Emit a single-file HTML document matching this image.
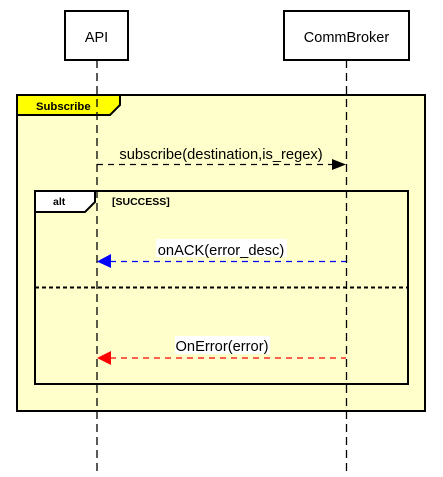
<!DOCTYPE html>
<html><head><style>body{margin:0;background:#fff}</style></head><body>
<svg width="443" height="472" xmlns="http://www.w3.org/2000/svg" font-family="Liberation Sans, Arial, sans-serif">
<rect x="17" y="95" width="408" height="316" fill="#ffffcc" stroke="#000" stroke-width="2"/>
<polygon points="17,95 120,95 120,105 110,115 17,115" fill="#ffff00" stroke="#000" stroke-width="2"/>
<text x="36" y="110" font-size="11.3" font-weight="bold">Subscribe</text>
<rect x="35" y="191" width="373" height="193" fill="none" stroke="#000" stroke-width="2"/>
<polygon points="35,191 95,191 95,202 85,212 35,212" fill="#fff" stroke="#000" stroke-width="2"/>
<text x="53" y="205" font-size="10.5" font-weight="bold">alt</text>
<text x="112" y="205" font-size="10.5" font-weight="bold">[SUCCESS]</text>
<line x1="35" y1="287.5" x2="408" y2="287.5" stroke="#000" stroke-width="2" stroke-dasharray="4,3"/>
<line x1="97" y1="60" x2="97" y2="472" stroke="#000" stroke-width="1.3" stroke-dasharray="8,5"/>
<line x1="346.5" y1="60" x2="346.5" y2="472" stroke="#000" stroke-width="1.3" stroke-dasharray="8,5"/>
<rect x="65" y="11" width="63" height="49" fill="#fff" stroke="#000" stroke-width="2"/>
<text x="96.5" y="42" font-size="14.5" text-anchor="middle">API</text>
<rect x="284" y="11" width="125" height="49" fill="#fff" stroke="#000" stroke-width="2"/>
<text x="346.5" y="42" font-size="14.5" text-anchor="middle">CommBroker</text>
<text x="221" y="159" font-size="14.7" text-anchor="middle">subscribe(destination,is_regex)</text>
<line x1="97" y1="164.5" x2="333" y2="164.5" stroke="#000" stroke-width="1.3" stroke-dasharray="6,5"/>
<polygon points="332,159 346,164.5 332,170" fill="#000"/>
<rect x="156" y="239" width="131" height="18" fill="#fff"/>
<text x="221" y="255" font-size="14.7" text-anchor="middle">onACK(error_desc)</text>
<line x1="110" y1="261.5" x2="346" y2="261.5" stroke="#0000ff" stroke-width="1.3" stroke-dasharray="6,5"/>
<polygon points="111,254 97,261.5 111,268" fill="#0000ff"/>
<rect x="175" y="336" width="95" height="18" fill="#fff"/>
<text x="222" y="351" font-size="14.7" text-anchor="middle">OnError(error)</text>
<line x1="110" y1="358" x2="346" y2="358" stroke="#ff0000" stroke-width="1.3" stroke-dasharray="6,5"/>
<polygon points="111,351 97,358 111,365" fill="#ff0000"/>
</svg>
</body></html>
